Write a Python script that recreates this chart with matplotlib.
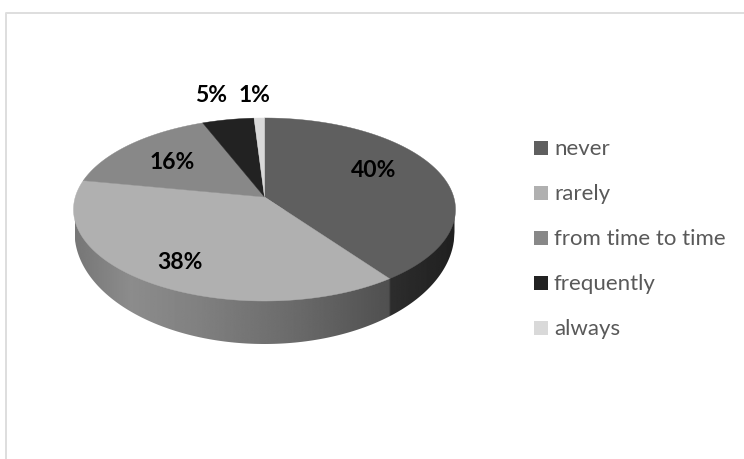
import numpy as np
import matplotlib
matplotlib.use('Agg')
import matplotlib.pyplot as plt
from matplotlib.patches import Polygon, Rectangle

categories = ['never', 'rarely', 'from time to time', 'frequently', 'always']
values = [40, 38, 16, 5, 1]
colors = ['#5f5f5f', '#b0b0b0', '#888888', '#222222', '#d9d9d9']

plt.rcParams['font.family'] = ['Lato', 'DejaVu Sans']

fig = plt.figure(figsize=(7.44, 4.59), dpi=100)
ax = fig.add_axes([0, 0, 1, 1])
ax.set_xlim(0, 744)
ax.set_ylim(459, 0)
ax.axis('off')

# chart frame, only top and left are visible in the picture
ax.plot([6, 6, 744], [459, 12.5, 12.5], color='#dedede', lw=1.4)


# tilted pie: a perspective map of the unit circle, apex sits above the ellipse centre
def top_xy(frac):
    t = 2 * np.pi * np.asarray(frac)
    X, Y = np.sin(t), np.cos(t)
    d = 1 + 0.1366 * Y
    return 264.5 + 189.2 * X / d, 197 - 89.8 * Y / d


def bottom_y(x):
    return 232 + 112 * np.sqrt(np.clip(1 - ((x - 264.5) / 190) ** 2, 0, 1))


cum = np.concatenate([[0], np.cumsum(values)]) / sum(values)

# side wall, with the shading Excel gives it
xs = np.linspace(74.5, 454.5, 600)
split = top_xy(cum[1])[0]
stops_x = [73, 130, 200, 300, split - 1, split + 1, 456]
stops_v = [118, 140, 128, 105, 80, 45, 32]
shade = np.interp(xs, stops_x, stops_v)
img = np.tile(shade, (2, 1))
im = ax.imshow(img, extent=(xs[0], xs[-1], 350, 190), cmap='gray', vmin=0, vmax=255,
               aspect='auto', interpolation='bilinear')
ax.set_xlim(0, 744)
ax.set_ylim(459, 0)

lower = bottom_y(xs)
upper = 210 + 0 * xs
wall = np.column_stack([np.r_[xs, xs[::-1]], np.r_[lower, upper[::-1]]])
clip = Polygon(wall, closed=True, transform=ax.transData, fc='none', ec='none')
ax.add_patch(clip)
im.set_clip_path(clip)

# top face
for i in range(len(values)):
    f = np.linspace(cum[i], cum[i + 1], 120)
    x, y = top_xy(f)
    pts = np.column_stack([np.r_[264.5, x], np.r_[197, y]])
    ax.add_patch(Polygon(pts, closed=True, fc=colors[i], ec=colors[i], lw=0.3, zorder=3))

# data labels
label_x = [374, 180, 172, 211, 255]
label_y = [177, 269, 169, 102, 102]
for lx, ly, v in zip(label_x, label_y, values):
    ax.text(lx, ly, f'{v}%', ha='center', va='baseline', fontsize=16.5,
            fontweight='bold', color='black', zorder=4)

# legend
leg_y = [148, 193, 238, 283, 328]
for c, name, ly in zip(colors, categories, leg_y):
    ax.add_patch(Rectangle((534, ly - 7), 14, 14, fc=c, ec='none'))
    ax.text(554, ly + 7, name, ha='left', va='baseline', fontsize=16, color='#595959')

fig.savefig('out.png', dpi=100)
